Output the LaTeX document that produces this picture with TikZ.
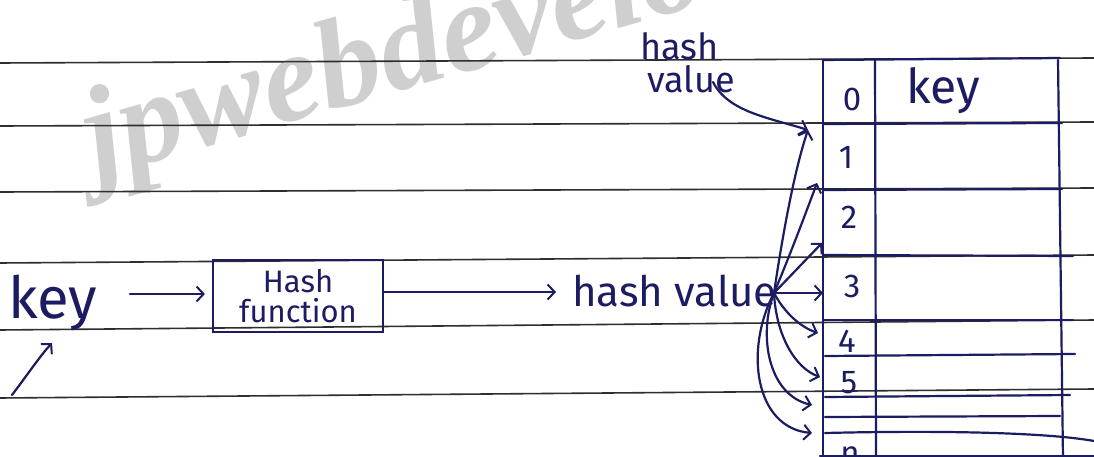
\documentclass[tikz,border=0pt]{standalone}
\usepackage{fontspec}
\setmainfont{Fira Sans}
\newfontfamily\markfont{Liberation Serif}
\usetikzlibrary{arrows.meta}
\definecolor{ink}{HTML}{1C1C62}
\definecolor{ruling}{HTML}{2E2E2E}
\definecolor{wmark}{HTML}{CFCFCF}
\begin{document}
\begin{tikzpicture}[x=1pt,y=-1pt,
  inkline/.style={draw=ink,line width=2.2pt,line cap=round,line join=round},
  ruling/.style={draw=ruling,line width=1.6pt},
  barb/.style={inkline,-{Straight Barb[length=7pt,width=15pt,line width=2pt]}},
  hand/.style={text=ink,inner sep=0pt},
  digit/.style={hand,anchor=base,font=\fontsize{33}{33}\selectfont},
]
\useasboundingbox (0,0) rectangle (1094,457);
\begin{scope}
\clip (0,0) rectangle (1094,457);
\fill[white] (0,0) rectangle (1094,457);

% watermark
\node[anchor=base west,rotate=16,text=wmark,inner sep=0pt,
      font=\markfont\bfseries\itshape\fontsize{128}{128}\selectfont]
      (wm) at (96,178) {jpwebdevelo};

% notebook ruling
\draw[ruling] (0,63) -- (1094,58);
\draw[ruling] (0,126) -- (1094,122);
\draw[ruling] (0,192) -- (1094,188);
\draw[ruling] (0,263) -- (1094,255);
\draw[ruling] (0,330) -- (1094,320);
\draw[ruling] (0,398) -- (1094,389);

% hash table
\draw[inkline] (823,60) -- (823,460);
\draw[inkline] (875,60) -- (876,460);
\draw[inkline] (1058,60) -- (1063,460);
\draw[inkline] (823,60) -- (1060,58);
\draw[inkline] (823,124) -- (1062,123);
\draw[inkline] (823,190) -- (1062,189);
\draw[inkline] (823,255) -- (1073,256);
\draw[inkline] (823,320) -- (1073,320);
\draw[inkline] (825,356) -- (1075,354);
\draw[inkline] (825,397) -- (1070,395);
\draw[inkline] (825,417) -- (1060,416);
\draw[inkline] (825,433) .. controls (950,430) and (1050,433) .. (1094,441);
\draw[inkline] (820,456) -- (1094,456);

\node[digit] (d0) at (852,111) {0};
\node[digit] (d1) at (846,168) {1};
\node[digit] (d2) at (849,228) {2};
\node[digit] (d3) at (852,297) {3};
\node[digit] (d4) at (847,352) {4};
\node[digit] (d5) at (849,393) {5};
\node[digit] (dn) at (850,464) {n};
\node[hand,anchor=base west,font=\fontsize{48}{48}\selectfont] (tkey) at (906,104) {key};

% key -> hash function -> hash value
\node[hand,anchor=base west,font=\fontsize{58}{58}\selectfont] (key) at (8,318) {key};
\node[draw=ink,line width=2.2pt,text=ink,align=center,minimum width=170pt,
      minimum height=72pt,inner sep=0pt,font=\fontsize{31}{30}\selectfont]
      (hf) at (298,296) {Hash\\function};
\node[hand,anchor=base west,font=\fontsize{42}{42}\selectfont] (hv) at (572,306) {hash value};

\coordinate (ka) at (130,294);
\draw[barb,shorten >=7pt] (ka) -- (ka -| hf.west);
\coordinate (kb) at (12,395);
\coordinate (kc) at (52,343);
\draw[barb] (kb) .. controls (28,374) and (40,356) .. (kc);
\coordinate (hfa) at (383,292);
\draw[barb,shorten >=16pt] (hfa) -- (hfa -| hv.west);

% label above the table
\node[hand,anchor=base west,font=\fontsize{36}{36}\selectfont] (hvt1) at (640,60) {hash};
\node[hand,anchor=base west,font=\fontsize{36}{36}\selectfont] (hvt2) at (647,93) {value};
\coordinate (hvtail) at (713,82);

% slot targets on the table edge
\coordinate (fan) at (774,293);
\coordinate (t0) at (808,130);
\coordinate (t1) at (817,183);
\coordinate (t2) at (822,243);
\coordinate (t3) at (823,293);
\coordinate (t4) at (818,333);
\coordinate (t5) at (820,377);
\coordinate (t6) at (812,405);
\coordinate (t7) at (812,433);

\draw[barb] (hvtail) .. controls (728,112) and (770,118) .. (t0);
\draw[barb] (fan) .. controls (784,225) and (796,165) .. (t0);
\draw[barb] (fan) .. controls (790,255) and (805,215) .. (t1);
\draw[barb] (fan) -- (t2);
\draw[barb] (fan) -- (t3);
\draw[barb] (fan) .. controls (784,312) and (800,327) .. (t4);
\draw[barb] (fan) .. controls (776,335) and (795,368) .. (t5);
\draw[barb] (fan) .. controls (758,335) and (768,395) .. (t6);
\draw[barb] (fan) .. controls (744,350) and (755,428) .. (t7);
\end{scope}
\end{tikzpicture}
\end{document}
